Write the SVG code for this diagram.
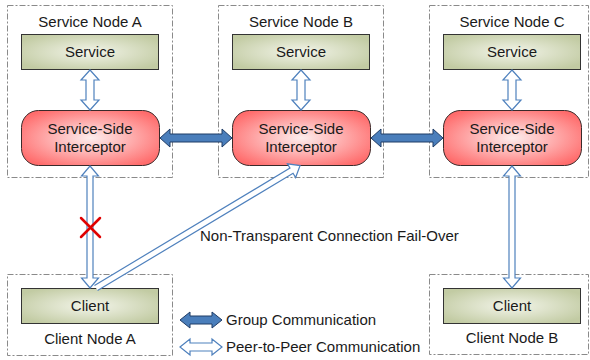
<svg xmlns="http://www.w3.org/2000/svg" width="590" height="360" viewBox="0 0 590 360">
<defs>
<radialGradient id="gSvc" cx="50%" cy="50%" r="60%">
<stop offset="0" stop-color="#f3f5ea"/>
<stop offset="1" stop-color="#c2cba3"/>
</radialGradient>
<radialGradient id="gInt" cx="50%" cy="50%" r="60%">
<stop offset="0" stop-color="#fdeeee"/>
<stop offset="1" stop-color="#ff6c6c"/>
</radialGradient>
<style>
.node{fill:none;stroke:#8a8a8a;stroke-width:1;stroke-dasharray:6 2 2 2}
.svc{fill:url(#gSvc);stroke:#333;stroke-width:1}
.int{fill:url(#gInt);stroke:#3a2a2a;stroke-width:1}
text{font-family:"Liberation Sans",Arial,sans-serif;font-size:15px;fill:#1a1a1a;text-anchor:middle}
.l{text-anchor:start}
.p2p{fill:#fff;stroke:#4f81bd;stroke-width:1.2}
.grp{fill:#4a7ebb;stroke:#1f3c66;stroke-width:1}
.x{stroke:#e00000;stroke-width:2.5;stroke-linecap:round}
</style>
</defs>

<g id="serviceNodeA">
<rect class="node" x="7.5" y="5.5" width="165" height="172"/>
<text x="90" y="27">Service Node A</text>
<rect class="svc" x="21.5" y="34.5" width="137" height="35"/>
<text x="90" y="57">Service</text>
<rect class="int" x="21.5" y="110.5" width="138" height="55" rx="17"/>
<text x="90" y="134">Service-Side</text>
<text x="90" y="152">Interceptor</text>
</g>

<g id="serviceNodeB">
<rect class="node" x="218.5" y="5.5" width="165" height="172"/>
<text x="301" y="27">Service Node B</text>
<rect class="svc" x="232.5" y="34.5" width="137" height="35"/>
<text x="301" y="57">Service</text>
<rect class="int" x="232.5" y="110.5" width="138" height="55" rx="17"/>
<text x="301" y="134">Service-Side</text>
<text x="301" y="152">Interceptor</text>
</g>

<g id="serviceNodeC">
<rect class="node" x="429.5" y="5.5" width="159" height="172"/>
<text x="512" y="27">Service Node C</text>
<rect class="svc" x="443.5" y="34.5" width="137" height="35"/>
<text x="512" y="57">Service</text>
<rect class="int" x="443.5" y="110.5" width="138" height="55" rx="17"/>
<text x="512" y="134">Service-Side</text>
<text x="512" y="152">Interceptor</text>
</g>

<g id="clientNodeA">
<rect class="node" x="7.5" y="274.5" width="165" height="81"/>
<rect class="svc" x="21.5" y="288.5" width="137" height="35"/>
<text x="90" y="311">Client</text>
<text x="90" y="344">Client Node A</text>
</g>

<g id="clientNodeB">
<rect class="node" x="429.5" y="274.5" width="159" height="80"/>
<rect class="svc" x="443.5" y="288.5" width="137" height="35"/>
<text x="512" y="311">Client</text>
<text x="512" y="343">Client Node B</text>
</g>

<g id="connectors">
<!-- service to interceptor (p2p) -->
<path class="p2p" d="M90,70 L99,80 L94,80 L94,100 L99,100 L90,110 L81,100 L86,100 L86,80 L81,80 Z"/>
<path class="p2p" d="M301,70 L310,80 L305,80 L305,100 L310,100 L301,110 L292,100 L297,100 L297,80 L292,80 Z"/>
<path class="p2p" d="M512,70 L521,80 L516,80 L516,100 L521,100 L512,110 L503,100 L508,100 L508,80 L503,80 Z"/>
<!-- group communication between interceptors -->
<path class="grp" d="M160,138 L170,129 L170,134 L222,134 L222,129 L232,138 L222,147 L222,142 L170,142 L170,147 Z"/>
<path class="grp" d="M371,138 L381,129 L381,134 L433,134 L433,129 L443,138 L433,147 L433,142 L381,142 L381,147 Z"/>
<!-- interceptor A to client A (p2p) -->
<path class="p2p" d="M90,166 L98.5,176 L93,176 L93,278 L98.5,278 L90,288 L81.5,278 L87,278 L87,176 L81.5,176 Z"/>
<!-- interceptor C to client B (p2p) -->
<path class="p2p" d="M512,166 L520.5,176 L515,176 L515,278 L520.5,278 L512,288 L503.5,278 L509,278 L509,176 L503.5,176 Z"/>
<!-- fail-over diagonal -->
<path class="p2p" transform="translate(96,288) rotate(-30.96)" d="M0,-3 L228,-3 L228,-8 L238,0 L228,8 L228,3 L0,3"/>
<!-- failed link mark -->
<line class="x" x1="81" y1="218" x2="100" y2="237"/>
<line class="x" x1="100" y1="218" x2="81" y2="237"/>
</g>

<text x="200" y="241" class="l">Non-Transparent Connection Fail-Over</text>

<g id="legend">
<path class="grp" d="M180,320 L190,312 L190,316 L212,316 L212,312 L222,320 L212,328 L212,324 L190,324 L190,328 Z"/>
<text x="226" y="325" class="l">Group Communication</text>
<path class="p2p" d="M180,347 L190,339 L190,343 L212,343 L212,339 L222,347 L212,355 L212,351 L190,351 L190,355 Z"/>
<text x="226" y="352" class="l">Peer-to-Peer Communication</text>
</g>
</svg>
